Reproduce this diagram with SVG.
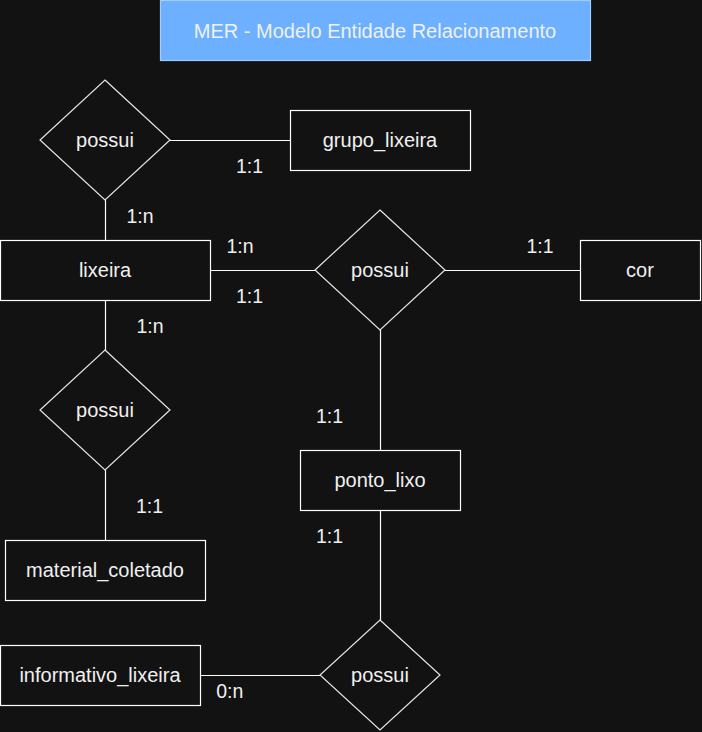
<svg xmlns="http://www.w3.org/2000/svg" width="702" height="732" viewBox="0 0 702 732">
<style>
.bg{fill:#121212}
.ent{fill:#121212;stroke:#ffffff;stroke-width:1.2}
.rel{fill:#121212;stroke:#e6e6e6;stroke-width:1.2}
.edge{stroke:#ffffff;stroke-width:1.2;fill:none}
text{font-family:"Liberation Sans",Arial,Helvetica,sans-serif;font-size:20px;fill:#f0f0f0;text-anchor:middle}
.lbl{font-size:19.5px}
</style>
<rect class="bg" x="0" y="0" width="702" height="732"/>
<g id="title">
<rect x="160.5" y="0.5" width="430" height="60" fill="#6cb0ff" stroke="#a6cbff" stroke-width="1.2"/>
<text x="375" y="37.5">MER - Modelo Entidade Relacionamento</text>
</g>
<g id="connectors">
<line class="edge" x1="170" y1="140.5" x2="290" y2="140.5"/>
<line class="edge" x1="105.5" y1="200" x2="105.5" y2="240"/>
<line class="edge" x1="210" y1="270.5" x2="315" y2="270.5"/>
<line class="edge" x1="445" y1="270.5" x2="580" y2="270.5"/>
<line class="edge" x1="105.5" y1="300" x2="105.5" y2="350"/>
<line class="edge" x1="105.5" y1="470" x2="105.5" y2="540"/>
<line class="edge" x1="380.5" y1="330" x2="380.5" y2="450"/>
<line class="edge" x1="380.5" y1="510" x2="380.5" y2="620"/>
<line class="edge" x1="200" y1="675.5" x2="320" y2="675.5"/>
<text class="lbl" x="249.5" y="173.3">1:1</text>
<text class="lbl" x="140" y="223.3">1:n</text>
<text class="lbl" x="240" y="253.3">1:n</text>
<text class="lbl" x="249.5" y="303.3">1:1</text>
<text class="lbl" x="540" y="253.3">1:1</text>
<text class="lbl" x="150" y="333.3">1:n</text>
<text class="lbl" x="329.5" y="423.3">1:1</text>
<text class="lbl" x="149.5" y="513.3">1:1</text>
<text class="lbl" x="329.5" y="543.3">1:1</text>
<text class="lbl" x="229.7" y="698.3">0:n</text>
</g>
<g id="rel_possui_grupo">
<polygon class="rel" points="105,80 170,140 105,200 40,140"/>
<text x="105" y="147">possui</text>
</g>
<g id="grupo_lixeira">
<rect class="ent" x="290.5" y="110.5" width="180" height="60"/>
<text x="380" y="147">grupo_lixeira</text>
</g>
<g id="lixeira">
<rect class="ent" x="0.5" y="240.5" width="210" height="60"/>
<text x="105" y="277">lixeira</text>
</g>
<g id="rel_possui_cor">
<polygon class="rel" points="380,210 445,270 380,330 315,270"/>
<text x="380" y="277">possui</text>
</g>
<g id="cor">
<rect class="ent" x="580.5" y="240.5" width="120" height="60"/>
<text x="640" y="277">cor</text>
</g>
<g id="rel_possui_material">
<polygon class="rel" points="105,350 170,410 105,470 40,410"/>
<text x="105" y="417">possui</text>
</g>
<g id="material_coletado">
<rect class="ent" x="5.5" y="540.5" width="200" height="60"/>
<text x="105" y="577">material_coletado</text>
</g>
<g id="ponto_lixo">
<rect class="ent" x="300.5" y="450.5" width="160" height="60"/>
<text x="380" y="487">ponto_lixo</text>
</g>
<g id="rel_possui_informativo">
<polygon class="rel" points="380,620 440,675 380,730 320,675"/>
<text x="380" y="682">possui</text>
</g>
<g id="informativo_lixeira">
<rect class="ent" x="0.5" y="645.5" width="200" height="60"/>
<text x="100" y="682">informativo_lixeira</text>
</g>
</svg>
